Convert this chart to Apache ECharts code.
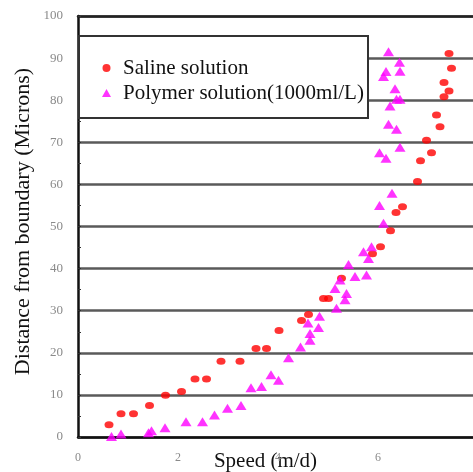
<!DOCTYPE html>
<html>
<head>
<meta charset="utf-8">
<script src="https://cdn.jsdelivr.net/npm/echarts@6/dist/echarts.min.js"></script>
<style>
  html, body { margin: 0; padding: 0; background: #fff; }
  #chart { width: 473px; height: 472px; }
</style>
</head>
<body>
<div id="chart"></div>
<script>
// speed (m/d), distance (microns)
var salineX = [0.62, 0.86, 1.11, 1.43, 1.75, 2.07, 2.34, 2.57, 2.86, 3.24, 3.56, 3.77, 4.02, 4.47, 4.61,
               4.91, 5.01, 5.27, 5.89, 6.05, 6.25, 6.36, 6.49, 6.79, 6.85, 7.07, 6.97, 7.24, 7.17, 7.32,
               7.42, 7.32, 7.47, 7.42];
var salineY = [2.9, 5.5, 5.5, 7.5, 9.9, 10.8, 13.8, 13.8, 18.0, 18.0, 21.0, 21.0, 25.3, 27.7, 29.1,
               32.9, 32.9, 37.7, 43.5, 45.2, 49.0, 53.3, 54.7, 60.7, 65.6, 67.5, 70.5, 73.7, 76.5, 80.8,
               82.2, 84.2, 87.6, 91.1];
var polymerX = [0.67, 0.86, 1.41, 1.47, 1.74, 2.16, 2.49, 2.73, 2.99, 3.26, 3.46, 3.67, 3.86, 4.01, 4.21,
                4.45, 4.64, 4.64, 4.81, 4.60, 4.83, 5.17, 5.34, 5.37, 5.14, 5.24, 5.54, 5.77, 5.41, 5.81,
                5.71, 5.87, 6.11, 6.03, 6.28, 6.16, 6.03, 6.44, 6.37, 6.21, 6.24, 6.37, 6.44, 6.34, 6.11,
                6.16, 6.44, 6.43, 6.21];
var polymerY = [0.1, 0.7, 1.0, 1.5, 2.2, 3.6, 3.6, 5.2, 6.8, 7.5, 11.7, 12.0, 14.8, 13.5, 18.8,
                21.4, 23.0, 24.6, 26.0, 27.1, 28.7, 30.6, 32.6, 34.1, 35.3, 37.3, 38.1, 38.5, 41.0, 42.4,
                44.0, 45.2, 50.8, 55.0, 57.9, 66.2, 67.5, 68.8, 73.1, 74.3, 78.6, 80.2, 80.2, 82.7, 85.6,
                86.8, 86.9, 89.0, 91.5];
var seriesNames = ['Saline solution', 'Polymer solution(1000ml/L)'];

function pairs(xs, ys) {
    var out = [];
    for (var i = 0; i < xs.length; i++) out.push([xs[i], ys[i]]);
    return out;
}

var serif = "'Liberation Serif', 'DejaVu Serif', serif";
var chart = echarts.init(document.getElementById('chart'));
var option = {
    animation: false,
    grid: { left: 78, right: 0, top: 16, bottom: 35, outerBoundsMode: 'none', containLabel: false },
    legend: {
        orient: 'vertical',
        left: 97,
        top: 51,
        itemWidth: 9,
        itemHeight: 8,
        itemGap: 1,
        z: 5,
        data: seriesNames,
        textStyle: { fontFamily: serif, fontSize: 21, color: '#111', lineHeight: 24, padding: [0, 0, 0, 7] }
    },
    graphic: [{
        type: 'rect',
        z: 4,
        shape: { x: 79, y: 36, width: 289, height: 82 },
        style: { fill: '#fff', stroke: '#333', lineWidth: 2 }
    }],
    xAxis: [{
        type: 'value',
        min: 0,
        max: 7.9,
        interval: 2,
        name: 'Speed (m/d)',
        nameLocation: 'middle',
        nameGap: 14,
        nameMoveOverlap: false,
        nameTextStyle: { fontFamily: serif, fontSize: 21, color: '#111', verticalAlign: 'top', padding: [0, 20, 0, 0] },
        axisLine: { lineStyle: { color: '#111', width: 2.5 } },
        axisTick: { show: false },
        splitLine: { show: false },
        axisLabel: { margin: 15, fontFamily: serif, fontSize: 12, color: '#8a8a8a', showMaxLabel: false }
    }, {
        type: 'value',
        position: 'top',
        min: 0,
        max: 7.9,
        axisLine: { show: true, lineStyle: { color: '#222', width: 2.5 } },
        axisTick: { show: false },
        axisLabel: { show: false },
        splitLine: { show: false }
    }],
    yAxis: {
        type: 'value',
        min: 0,
        max: 100,
        interval: 10,
        name: 'Distance from boundary (Microns)',
        nameLocation: 'middle',
        nameGap: 44,
        nameMoveOverlap: false,
        nameTextStyle: { fontFamily: serif, fontSize: 22, color: '#111', padding: [0, 0, 0, 10] },
        axisLine: { show: true, lineStyle: { color: '#111', width: 2.5 } },
        axisTick: { show: true, inside: true, length: 3, lineStyle: { color: '#333' } },
        minorTick: { show: true, splitNumber: 2, length: 3, lineStyle: { color: '#333' } },
        splitLine: { lineStyle: { color: '#5a5a5a', width: 2.5 } },
        axisLabel: { margin: 15, fontFamily: serif, fontSize: 13, color: '#8a8a8a' }
    },
    series: [{
        name: seriesNames[0],
        type: 'scatter',
        symbol: 'circle',
        symbolSize: [9, 7],
        itemStyle: { color: '#ff0000' },
        data: pairs(salineX, salineY)
    }, {
        name: seriesNames[1],
        type: 'scatter',
        symbol: 'triangle',
        symbolSize: [11, 9],
        itemStyle: { color: '#ff00ff' },
        data: pairs(polymerX, polymerY)
    }]
};
chart.setOption(option);
</script>
</body>
</html>
